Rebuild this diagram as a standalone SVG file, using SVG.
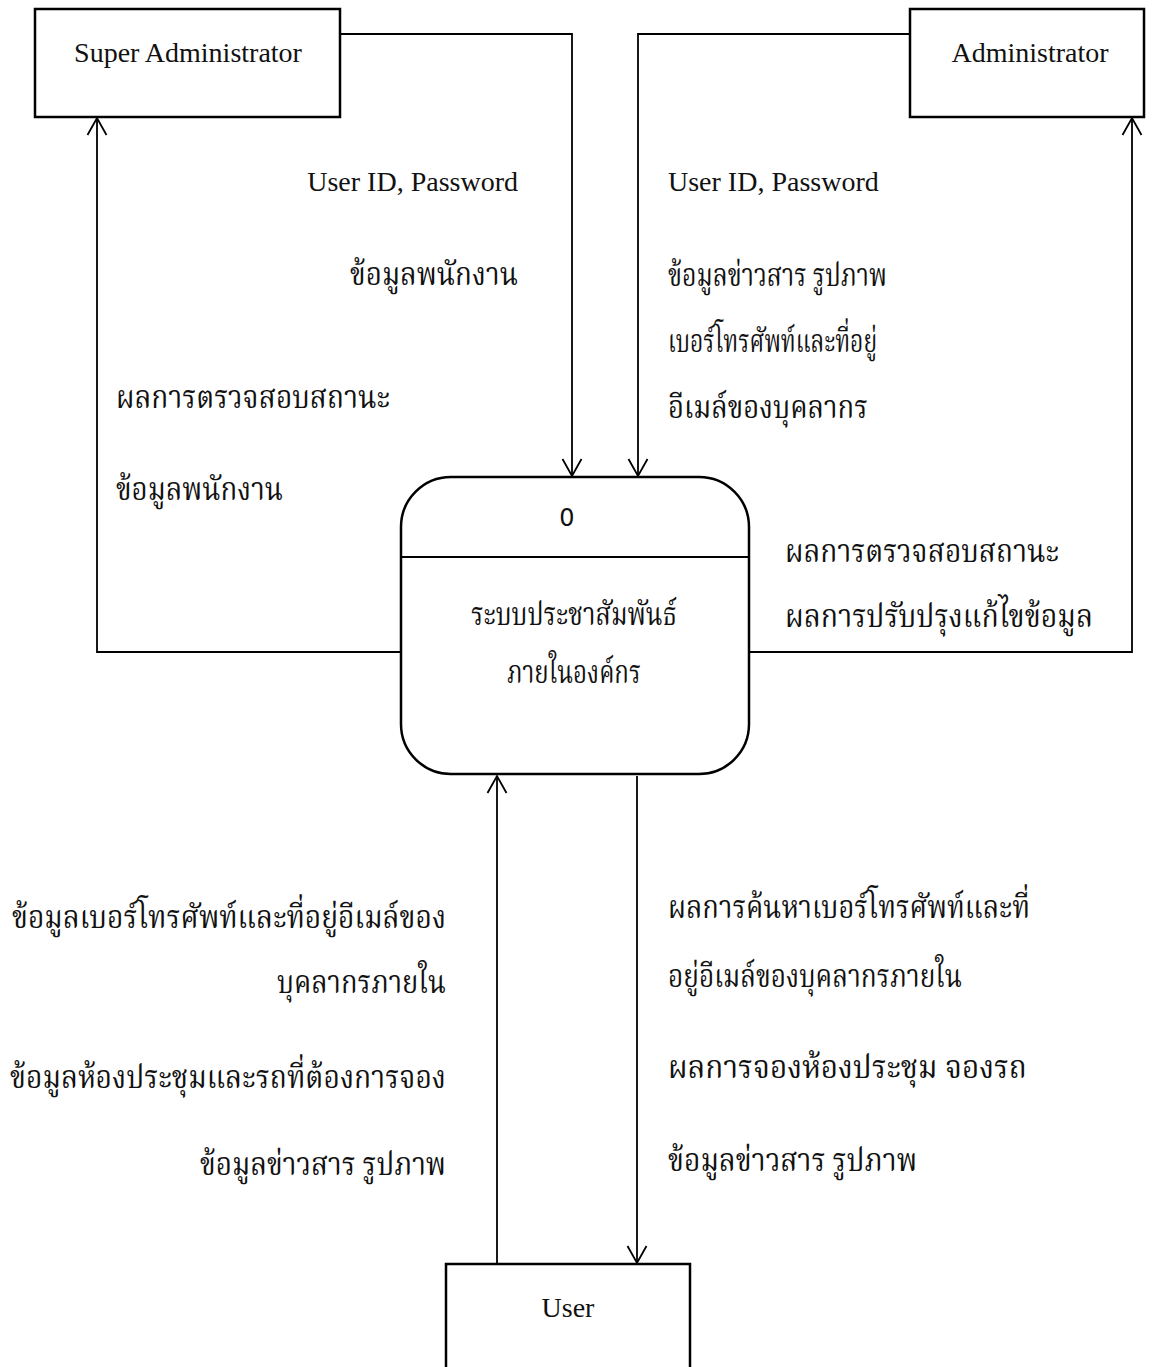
<svg xmlns="http://www.w3.org/2000/svg" width="1156" height="1367" viewBox="0 0 1156 1367">
<defs>
<style>
.box{fill:#fff;stroke:#000;stroke-width:2.5}
.conn{fill:none;stroke:#000;stroke-width:1.8}
.en{font-family:"Liberation Serif","Times New Roman",serif;font-size:28px;fill:#111}
.th{font-family:"Liberation Serif","Norasi","Kinnari","Noto Serif Thai","Noto Sans Thai Looped","Noto Sans Thai",serif;font-size:32px;fill:#111}
.num{font-family:"DejaVu Sans","Noto Sans",sans-serif;font-size:24px;fill:#111}
</style>
<marker id="arr" markerUnits="userSpaceOnUse" markerWidth="24" markerHeight="24" viewBox="-20 -12 24 24" refX="0" refY="0" orient="auto">
<path d="M -17 -9.5 L 0 0 L -17 9.5" fill="none" stroke="#000" stroke-width="1.8"/>
</marker>
</defs>
<rect width="1156" height="1367" fill="#fff"/>

<g id="connectors">
<polyline class="conn" points="341,34 572,34 572,476" marker-end="url(#arr)"/>
<polyline class="conn" points="910,34 638,34 638,476" marker-end="url(#arr)"/>
<polyline class="conn" points="401,652 97,652 97,118" marker-end="url(#arr)"/>
<polyline class="conn" points="749,652 1132,652 1132,118" marker-end="url(#arr)"/>
<polyline class="conn" points="497,1264 497,776" marker-end="url(#arr)"/>
<polyline class="conn" points="637,776 637,1263" marker-end="url(#arr)"/>
</g>

<g id="labels">
<text class="en" x="518" y="191" text-anchor="end">User ID, Password</text>
<text class="th" x="518" y="285" text-anchor="end" textLength="168" lengthAdjust="spacingAndGlyphs">ข้อมูลพนักงาน</text>
<text class="en" x="668" y="191">User ID, Password</text>
<text class="th" x="668" y="286" textLength="219" lengthAdjust="spacingAndGlyphs">ข้อมูลข่าวสาร รูปภาพ</text>
<text class="th" x="668" y="352" textLength="209" lengthAdjust="spacingAndGlyphs">เบอร์โทรศัพท์และที่อยู่</text>
<text class="th" x="668" y="418" textLength="200" lengthAdjust="spacingAndGlyphs">อีเมล์ของบุคลากร</text>
<text class="th" x="116" y="408" textLength="274" lengthAdjust="spacingAndGlyphs">ผลการตรวจสอบสถานะ</text>
<text class="th" x="116" y="500" textLength="167" lengthAdjust="spacingAndGlyphs">ข้อมูลพนักงาน</text>
<text class="th" x="785" y="562" textLength="274" lengthAdjust="spacingAndGlyphs">ผลการตรวจสอบสถานะ</text>
<text class="th" x="785" y="627" textLength="308" lengthAdjust="spacingAndGlyphs">ผลการปรับปรุงแก้ไขข้อมูล</text>
<text class="th" x="446" y="928" text-anchor="end" textLength="434" lengthAdjust="spacingAndGlyphs">ข้อมูลเบอร์โทรศัพท์และที่อยู่อีเมล์ของ</text>
<text class="th" x="446" y="993" text-anchor="end" textLength="169" lengthAdjust="spacingAndGlyphs">บุคลากรภายใน</text>
<text class="th" x="446" y="1088" text-anchor="end" textLength="436" lengthAdjust="spacingAndGlyphs">ข้อมูลห้องประชุมและรถที่ต้องการจอง</text>
<text class="th" x="446" y="1175" text-anchor="end" textLength="246" lengthAdjust="spacingAndGlyphs">ข้อมูลข่าวสาร รูปภาพ</text>
<text class="th" x="668" y="918" textLength="362" lengthAdjust="spacingAndGlyphs">ผลการค้นหาเบอร์โทรศัพท์และที่</text>
<text class="th" x="668" y="987" textLength="294" lengthAdjust="spacingAndGlyphs">อยู่อีเมล์ของบุคลากรภายใน</text>
<text class="th" x="668" y="1078" textLength="359" lengthAdjust="spacingAndGlyphs">ผลการจองห้องประชุม จองรถ</text>
<text class="th" x="668" y="1171" textLength="249" lengthAdjust="spacingAndGlyphs">ข้อมูลข่าวสาร รูปภาพ</text>
</g>

<g id="super-admin">
<rect class="box" x="35" y="9" width="305" height="108"/>
<text class="en" x="188" y="62" text-anchor="middle">Super Administrator</text>
</g>

<g id="admin">
<rect class="box" x="910" y="9" width="234" height="108"/>
<text class="en" x="1030" y="62" text-anchor="middle">Administrator</text>
</g>

<g id="process-0">
<rect class="box" x="401" y="477" width="348" height="297" rx="50" ry="50"/>
<line x1="401" y1="557" x2="749" y2="557" stroke="#000" stroke-width="2"/>
<text class="num" x="567" y="526" text-anchor="middle">0</text>
<text class="th" x="574" y="625" text-anchor="middle" textLength="206" lengthAdjust="spacingAndGlyphs">ระบบประชาสัมพันธ์</text>
<text class="th" x="574" y="683" text-anchor="middle" textLength="134" lengthAdjust="spacingAndGlyphs">ภายในองค์กร</text>
</g>

<g id="user">
<rect class="box" x="446" y="1264" width="244" height="120"/>
<text class="en" x="568" y="1317" text-anchor="middle">User</text>
</g>
</svg>
